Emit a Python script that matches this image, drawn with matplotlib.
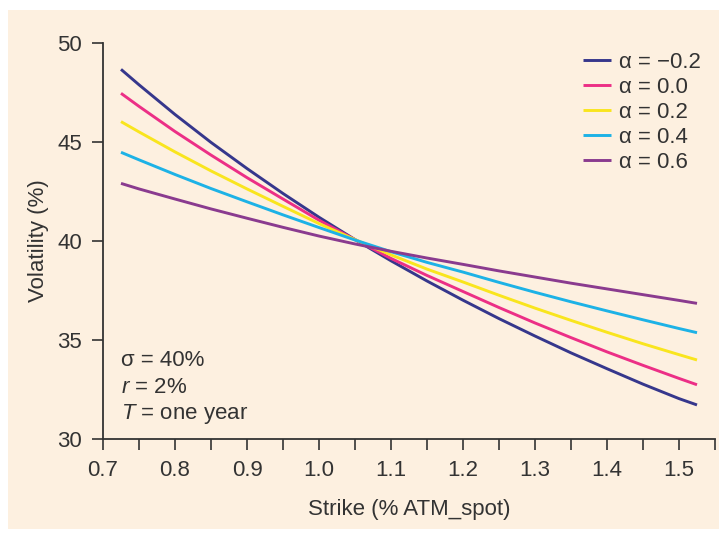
import matplotlib
matplotlib.use("Agg")
import matplotlib.pyplot as plt
from matplotlib.patches import Rectangle
from matplotlib.ticker import MultipleLocator

plt.rcParams['font.family'] = ['Liberation Sans', 'DejaVu Sans']
plt.rcParams['mathtext.fontset'] = 'custom'
plt.rcParams['mathtext.rm'] = 'Liberation Sans'
plt.rcParams['mathtext.it'] = 'Liberation Sans:italic'

# strike values and implied vols
strike = [0.725, 0.75, 0.8, 0.85, 0.9, 0.95, 1.0, 1.05, 1.1, 1.15, 1.2,
          1.25, 1.3, 1.35, 1.4, 1.45, 1.5, 1.525]
vol_m02 = [48.67, 47.89, 46.39, 44.98, 43.66, 42.40, 41.20, 40.07, 39.00, 37.98,
           37.01, 36.08, 35.20, 34.35, 33.55, 32.77, 32.04, 31.72]
vol_00 = [47.46, 46.80, 45.53, 44.34, 43.20, 42.12, 41.05, 40.07, 39.12, 38.26,
          37.45, 36.64, 35.86, 35.12, 34.40, 33.72, 33.06, 32.74]
vol_02 = [46.03, 45.51, 44.50, 43.54, 42.63, 41.75, 40.88, 40.07, 39.30, 38.58,
          37.93, 37.26, 36.61, 35.99, 35.39, 34.81, 34.26, 33.99]
vol_04 = [44.48, 44.10, 43.36, 42.65, 41.98, 41.32, 40.68, 40.05, 39.46, 38.92,
          38.43, 37.91, 37.41, 36.93, 36.47, 36.02, 35.58, 35.37]
vol_06 = [42.91, 42.63, 42.12, 41.62, 41.15, 40.69, 40.25, 39.85, 39.48, 39.14,
          38.82, 38.49, 38.18, 37.87, 37.58, 37.29, 37.00, 36.85]

labels = ['\u03b1 = \u22120.2', '\u03b1 = 0.0', '\u03b1 = 0.2', '\u03b1 = 0.4', '\u03b1 = 0.6']
colors = ['#36378C', '#EC2F86', '#F9E51E', '#1DB2E6', '#8A3B8F']
series = [vol_m02, vol_00, vol_02, vol_04, vol_06]

cream = '#FDF0E0'
ink = '#333333'
fs = 16

fig = plt.figure(figsize=(7.19, 5.34), dpi=100)
fig.patch.set_facecolor('white')
fig.add_artist(Rectangle((8 / 719, 1 - 529 / 534), 711 / 719, 519 / 534,
                         transform=fig.transFigure, facecolor=cream,
                         edgecolor='none', zorder=0))

ax = fig.add_axes([103 / 719, 1 - 439 / 534, 612 / 719, 396 / 534])
ax.set_facecolor('none')

for v, c, lab in zip(series, colors, labels):
    ax.plot(strike, v, color=c, lw=2.1, label=lab, solid_capstyle='butt')

ax.set_xlim(0.7, 1.55)
ax.set_ylim(30, 50)
ax.xaxis.set_major_locator(MultipleLocator(0.1))
ax.xaxis.set_minor_locator(MultipleLocator(0.05))
ax.yaxis.set_major_locator(MultipleLocator(5))
ax.xaxis.set_major_formatter(plt.FuncFormatter(lambda x, p: f'{x:.1f}'))

for s in ['top', 'right']:
    ax.spines[s].set_visible(False)
for s in ['left', 'bottom']:
    ax.spines[s].set_color(ink)
    ax.spines[s].set_linewidth(1.3)

ax.tick_params(which='both', direction='out', length=8, width=1.2,
               color=ink, labelcolor=ink, labelsize=fs, pad=7)

ax.set_xlabel('Strike (% ATM_spot)', fontsize=fs, color=ink, labelpad=13)
ax.set_ylabel('Volatility (%)', fontsize=fs, color=ink, labelpad=6)

ax.text(0.03, 0.197, '\u03c3 = 40%', transform=ax.transAxes, fontsize=fs,
        color=ink, va='center')
ax.text(0.03, 0.13, '$r$ = 2%', transform=ax.transAxes, fontsize=fs,
        color=ink, va='center')
ax.text(0.03, 0.063, '$T$ = one year', transform=ax.transAxes, fontsize=fs,
        color=ink, va='center')

leg = ax.legend(loc='upper left', bbox_to_anchor=(0.784, 0.978), frameon=False,
                fontsize=fs, handlelength=1.25, handletextpad=0.4,
                labelspacing=0.18, borderpad=0, borderaxespad=0)
for t in leg.get_texts():
    t.set_color(ink)

fig.savefig('out.png', dpi=100, facecolor=fig.get_facecolor())
